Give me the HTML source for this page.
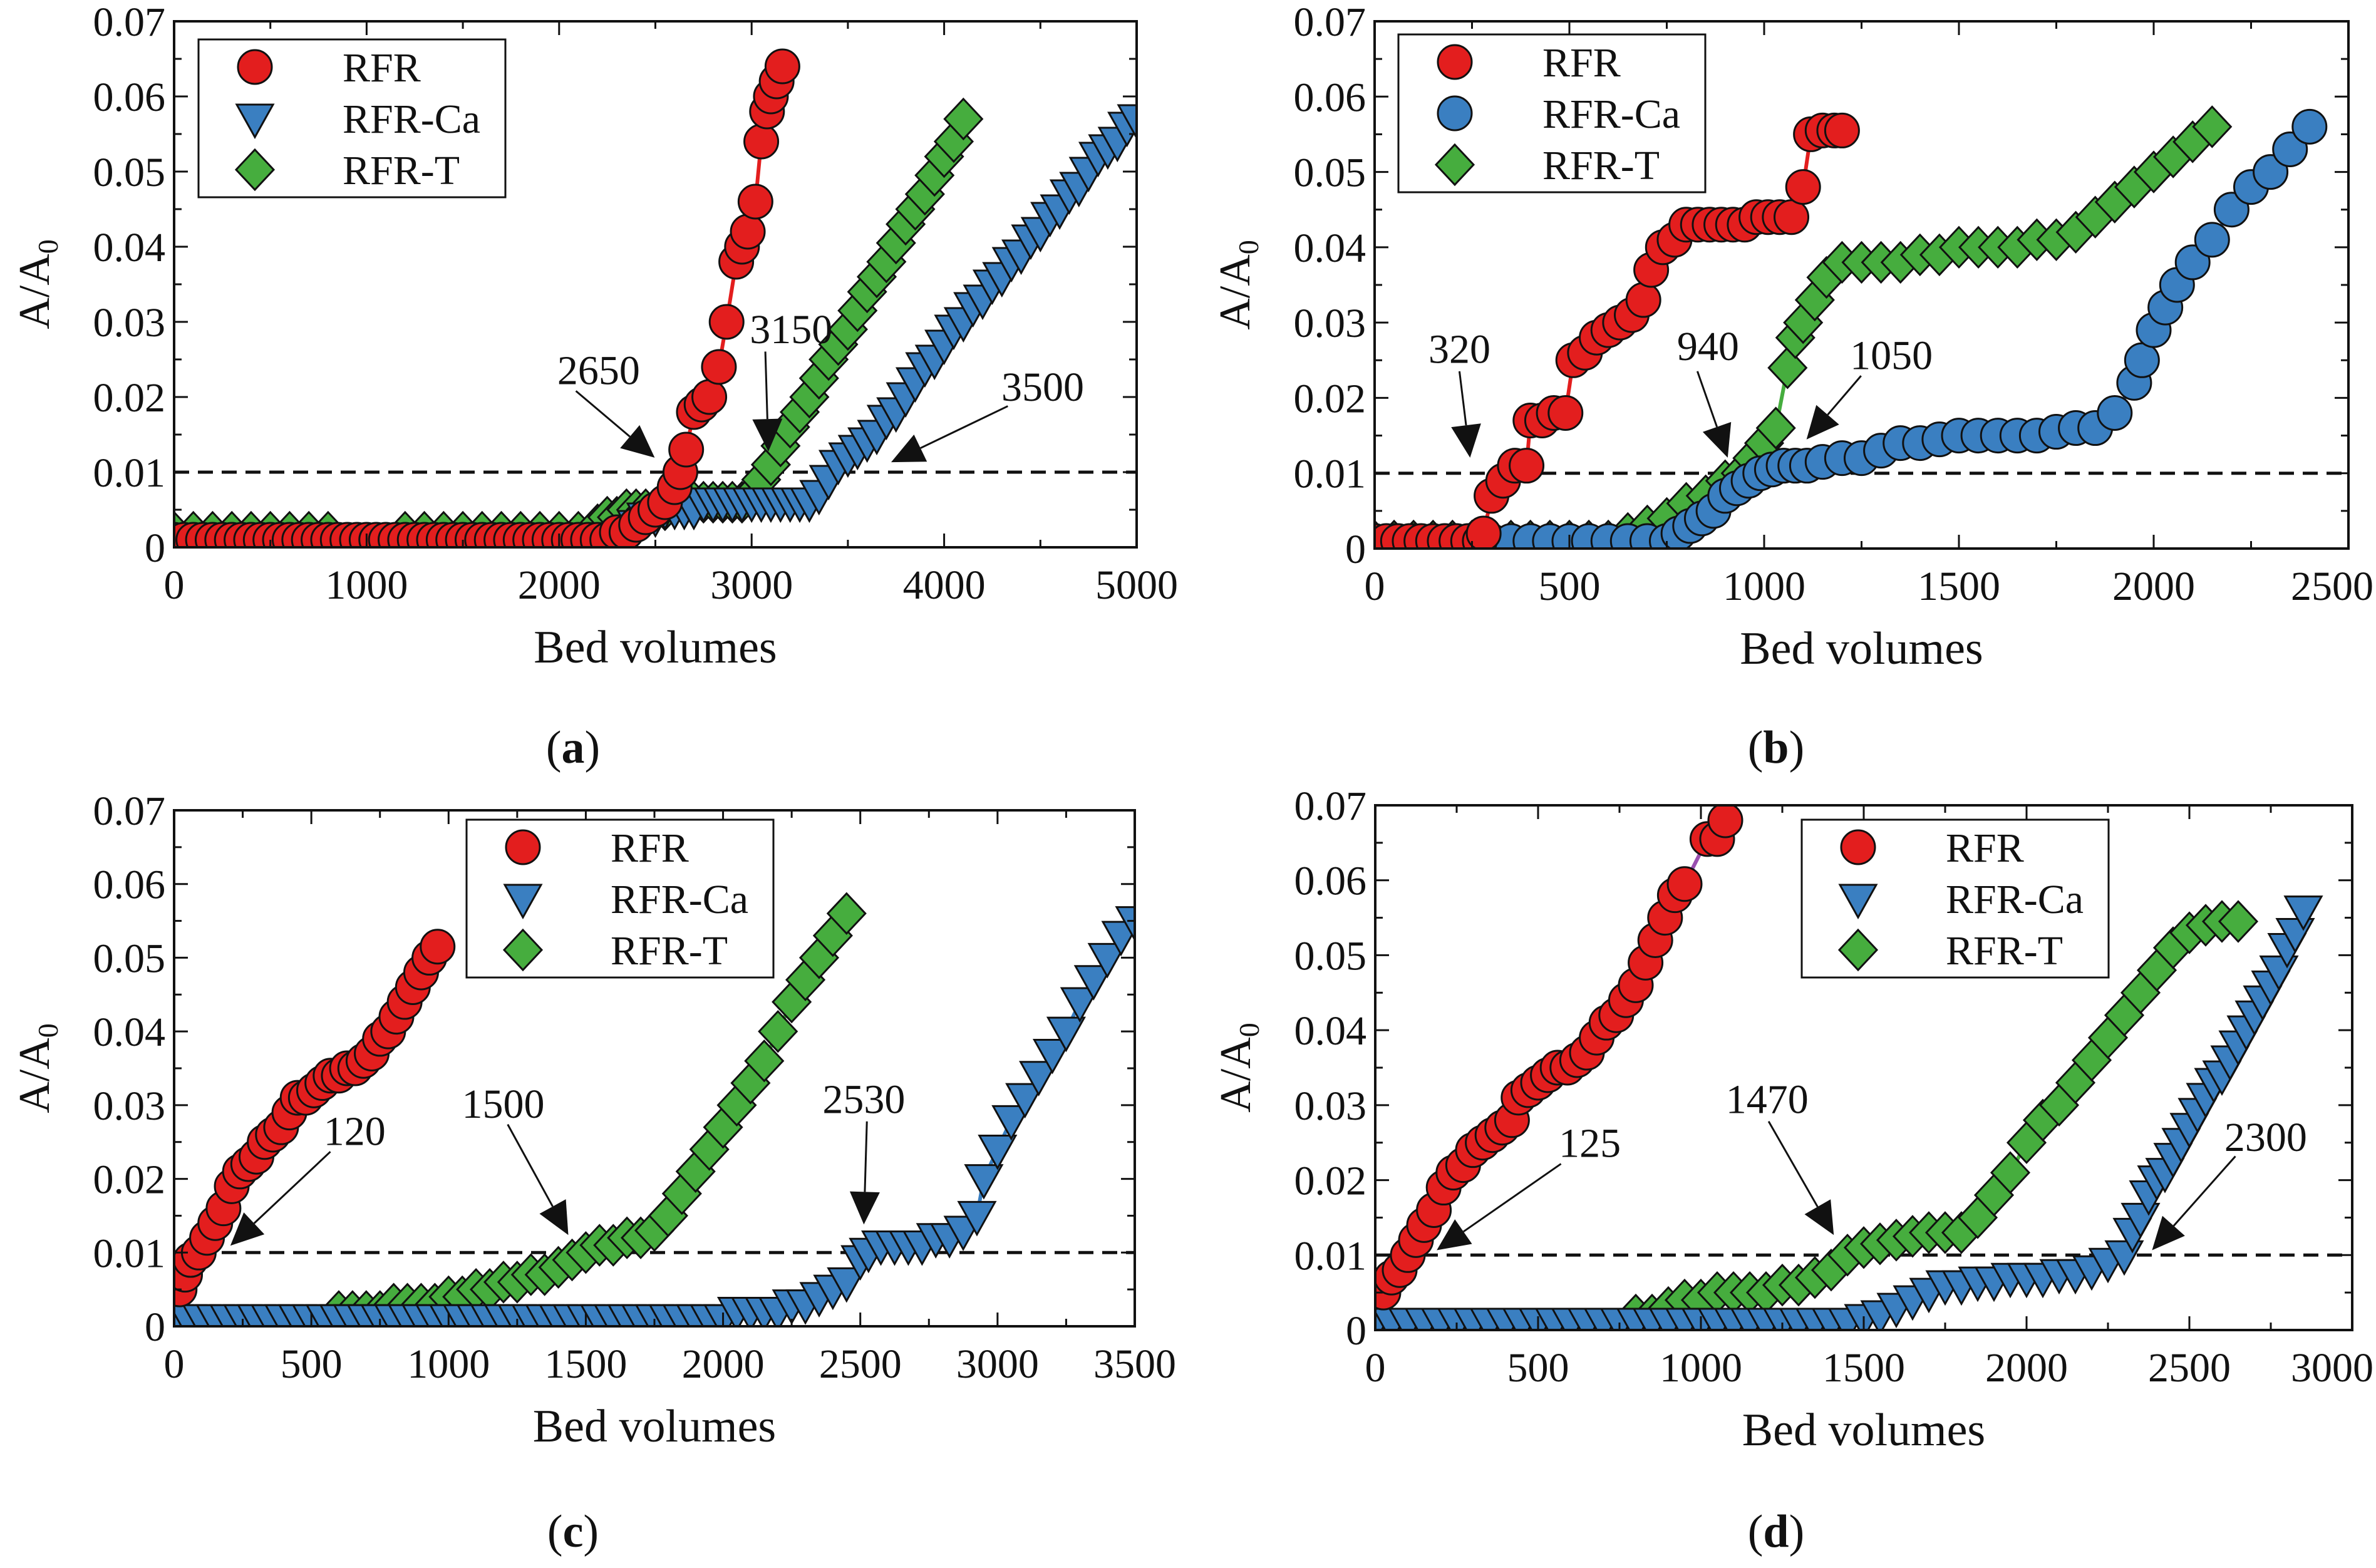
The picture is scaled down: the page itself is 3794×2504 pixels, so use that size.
<!DOCTYPE html>
<html><head><meta charset="utf-8">
<style>
html,body{margin:0;padding:0;background:#fff;}
svg{display:block;}
text{font-family:"Liberation Serif","DejaVu Serif",serif;fill:#111;}
</style></head>
<body>
<svg id="fig" width="3794" height="2504" viewBox="0 0 3794 2504" xmlns="http://www.w3.org/2000/svg"></svg>
<script>
// ---------- DATA ----------
// Panel (a)
const aRfrX=[0,50,100,150,200,250,300,350,400,450,500,550,600,650,700,750,800,850,900,950,1000,1050,1100,1150,1200,1250,1300,1350,1400,1450,1500,1550,1600,1650,1700,1750,1800,1850,1900,1950,2000,2050,2100,2150,2200,2250,2300,2350,2400,2450,2500,2550,2600,2630,2660,2700,2740,2780,2830,2870,2920,2950,2980,3020,3050,3080,3100,3130,3160];
const aRfrY=[0.001,0.001,0.001,0.001,0.001,0.001,0.001,0.001,0.001,0.001,0.001,0.001,0.001,0.001,0.001,0.001,0.001,0.001,0.001,0.001,0.001,0.001,0.001,0.001,0.001,0.001,0.001,0.001,0.001,0.001,0.001,0.001,0.001,0.001,0.001,0.001,0.001,0.001,0.001,0.001,0.001,0.001,0.001,0.001,0.001,0.001,0.002,0.002,0.003,0.004,0.005,0.006,0.008,0.01,0.013,0.018,0.019,0.02,0.024,0.03,0.038,0.04,0.042,0.046,0.054,0.058,0.06,0.062,0.064];
const aCaX=[0,200,400,600,800,1000,1200,1400,1600,1800,2000,2200,2400,2450,2500,2550,2600,2650,2700,2750,2800,2850,2900,2950,3000,3050,3100,3150,3200,3250,3300,3350,3400,3450,3500,3550,3600,3650,3700,3750,3800,3850,3900,3950,4000,4050,4100,4150,4200,4250,4300,4350,4400,4450,4500,4550,4600,4650,4700,4750,4800,4850,4900,4950,5000];
const aCaY=[0.001,0.001,0.001,0.001,0.001,0.001,0.001,0.001,0.001,0.001,0.001,0.001,0.003,0.004,0.004,0.005,0.005,0.005,0.005,0.006,0.006,0.006,0.006,0.006,0.006,0.006,0.006,0.006,0.006,0.006,0.006,0.007,0.009,0.011,0.012,0.013,0.014,0.015,0.017,0.018,0.02,0.022,0.024,0.025,0.027,0.029,0.03,0.032,0.033,0.035,0.036,0.038,0.039,0.041,0.042,0.044,0.045,0.047,0.048,0.05,0.052,0.053,0.054,0.056,0.057];
const aTX=[0,100,200,300,400,500,600,700,800,1200,1300,1400,1500,1600,1700,1800,1900,2000,2100,2200,2250,2300,2350,2400,2450,2500,2550,2600,2650,2700,2750,2800,2850,2900,2950,3000,3050,3100,3150,3200,3250,3300,3350,3400,3450,3500,3550,3600,3650,3700,3750,3800,3850,3900,3950,4000,4050,4100];
const aTY=[0.002,0.002,0.002,0.002,0.002,0.002,0.002,0.002,0.002,0.002,0.002,0.002,0.002,0.002,0.002,0.002,0.002,0.002,0.002,0.003,0.004,0.004,0.005,0.005,0.005,0.005,0.005,0.006,0.006,0.006,0.006,0.006,0.006,0.006,0.006,0.007,0.009,0.011,0.0135,0.016,0.018,0.02,0.0225,0.025,0.027,0.029,0.0315,0.034,0.036,0.038,0.0405,0.043,0.045,0.047,0.0495,0.052,0.054,0.057];
// Panel (b)
const bRfrX=[0,30,60,90,120,150,180,210,240,270,280,300,330,360,390,400,430,460,490,510,540,570,600,630,660,690,710,740,770,800,830,860,890,920,950,980,1010,1040,1070,1100,1120,1150,1180,1200];
const bRfrY=[0.001,0.001,0.001,0.001,0.001,0.001,0.001,0.001,0.001,0.001,0.002,0.007,0.009,0.011,0.011,0.017,0.017,0.018,0.018,0.025,0.026,0.028,0.029,0.03,0.031,0.033,0.037,0.04,0.041,0.043,0.043,0.043,0.043,0.043,0.043,0.044,0.044,0.044,0.044,0.048,0.055,0.0555,0.0555,0.0555];
const bCaX=[0,50,100,150,200,250,300,350,400,450,500,550,600,650,700,750,780,810,840,870,900,930,960,990,1020,1050,1080,1110,1150,1200,1250,1300,1350,1400,1450,1500,1550,1600,1650,1700,1750,1800,1850,1900,1950,1970,2000,2030,2060,2100,2150,2200,2250,2300,2350,2400];
const bCaY=[0.001,0.001,0.001,0.001,0.001,0.001,0.001,0.001,0.001,0.001,0.001,0.001,0.001,0.001,0.001,0.001,0.002,0.003,0.004,0.005,0.007,0.008,0.009,0.01,0.0105,0.011,0.011,0.011,0.0115,0.012,0.012,0.013,0.014,0.014,0.0145,0.015,0.015,0.015,0.015,0.015,0.0155,0.016,0.016,0.018,0.022,0.025,0.029,0.032,0.035,0.038,0.041,0.045,0.048,0.05,0.053,0.056];
const bTX=[0,50,100,150,200,250,300,350,400,450,500,550,600,650,700,750,800,850,900,940,970,1000,1030,1060,1080,1100,1130,1160,1200,1250,1300,1350,1400,1450,1500,1550,1600,1650,1700,1750,1800,1850,1900,1950,2000,2050,2100,2150];
const bTY=[0.001,0.001,0.001,0.001,0.001,0.001,0.001,0.001,0.001,0.001,0.001,0.001,0.001,0.002,0.003,0.004,0.006,0.007,0.009,0.01,0.012,0.014,0.016,0.024,0.028,0.03,0.033,0.036,0.038,0.038,0.038,0.038,0.039,0.039,0.04,0.04,0.04,0.04,0.041,0.041,0.042,0.044,0.046,0.048,0.05,0.052,0.054,0.056];
// Panel (c)
const cRfrX=[20,40,60,90,120,150,180,210,240,270,300,330,360,390,420,450,480,510,540,570,600,630,660,690,720,750,780,810,840,870,900,930,960];
const cRfrY=[0.005,0.007,0.009,0.01,0.012,0.014,0.016,0.019,0.021,0.022,0.023,0.025,0.026,0.027,0.029,0.031,0.031,0.032,0.033,0.034,0.034,0.035,0.035,0.036,0.037,0.039,0.04,0.042,0.044,0.046,0.048,0.05,0.0515];
const cCaX=[0,50,100,150,200,250,300,350,400,450,500,550,600,650,700,750,800,850,900,950,1000,1050,1100,1150,1200,1250,1300,1350,1400,1450,1500,1550,1600,1650,1700,1750,1800,1850,1900,1950,2000,2050,2100,2150,2200,2250,2300,2350,2400,2450,2500,2530,2575,2625,2675,2725,2775,2825,2875,2925,2950,3000,3050,3100,3150,3200,3250,3300,3350,3400,3450,3500];
const cCaY=[0.001,0.001,0.001,0.001,0.001,0.001,0.001,0.001,0.001,0.001,0.001,0.001,0.001,0.001,0.001,0.001,0.001,0.001,0.001,0.001,0.001,0.001,0.001,0.001,0.001,0.001,0.001,0.001,0.001,0.001,0.001,0.001,0.001,0.001,0.001,0.001,0.001,0.001,0.001,0.001,0.001,0.002,0.002,0.002,0.002,0.003,0.003,0.004,0.005,0.006,0.009,0.01,0.011,0.011,0.011,0.011,0.012,0.012,0.013,0.015,0.02,0.024,0.028,0.031,0.034,0.037,0.04,0.044,0.047,0.05,0.053,0.055];
const cTX=[600,650,700,750,800,850,900,950,1000,1050,1100,1150,1200,1250,1300,1350,1400,1450,1500,1550,1600,1650,1700,1750,1800,1850,1900,1950,2000,2050,2100,2150,2200,2250,2300,2350,2400,2450];
const cTY=[0.002,0.002,0.002,0.002,0.003,0.003,0.003,0.003,0.004,0.004,0.005,0.005,0.006,0.006,0.007,0.007,0.008,0.009,0.01,0.011,0.011,0.012,0.012,0.013,0.015,0.018,0.021,0.024,0.027,0.03,0.033,0.036,0.04,0.044,0.047,0.05,0.053,0.056];
// Panel (d)
const dRfrX=[25,50,75,100,125,150,180,210,240,270,300,330,360,390,420,440,470,500,530,560,590,620,650,680,710,740,770,800,830,860,890,920,950,1020,1050,1075];
const dRfrY=[0.005,0.007,0.008,0.01,0.012,0.014,0.016,0.019,0.021,0.022,0.024,0.025,0.026,0.027,0.028,0.031,0.032,0.033,0.034,0.035,0.035,0.036,0.037,0.039,0.041,0.042,0.044,0.046,0.049,0.052,0.055,0.058,0.0595,0.0655,0.0655,0.068];
const dCaX=[0,50,100,150,200,250,300,350,400,450,500,550,600,650,700,750,800,850,900,950,1000,1050,1100,1150,1200,1250,1300,1350,1400,1450,1500,1550,1600,1650,1700,1750,1800,1850,1900,1950,2000,2050,2100,2150,2200,2250,2300,2325,2350,2375,2400,2425,2450,2475,2500,2525,2550,2575,2600,2625,2650,2675,2700,2725,2750,2775,2800,2825,2850];
const dCaY=[0.001,0.001,0.001,0.001,0.001,0.001,0.001,0.001,0.001,0.001,0.001,0.001,0.001,0.001,0.001,0.001,0.001,0.001,0.001,0.001,0.001,0.001,0.001,0.001,0.001,0.001,0.001,0.001,0.001,0.001,0.0015,0.002,0.003,0.004,0.005,0.006,0.006,0.0065,0.0065,0.007,0.007,0.007,0.0075,0.0075,0.008,0.009,0.01,0.013,0.015,0.018,0.02,0.021,0.023,0.025,0.027,0.029,0.031,0.033,0.034,0.036,0.038,0.04,0.042,0.044,0.046,0.048,0.051,0.053,0.056];
const dTX=[800,850,900,950,1000,1050,1100,1150,1200,1250,1300,1350,1400,1450,1500,1550,1600,1650,1700,1750,1800,1850,1900,1950,2000,2050,2100,2150,2200,2250,2300,2350,2400,2450,2500,2550,2600,2650];
const dTY=[0.002,0.002,0.003,0.004,0.004,0.005,0.005,0.005,0.005,0.006,0.006,0.007,0.008,0.01,0.011,0.0115,0.012,0.0125,0.013,0.013,0.013,0.015,0.018,0.021,0.025,0.028,0.03,0.033,0.036,0.039,0.042,0.045,0.048,0.051,0.053,0.054,0.0545,0.0545];
const yTickLabels=["0","0.01","0.02","0.03","0.04","0.05","0.06","0.07"];
const yTickValues=[0,0.01,0.02,0.03,0.04,0.05,0.06,0.07];

// ---------- DRAWING ----------
const NS="http://www.w3.org/2000/svg";
const svg=document.getElementById('fig');
function mk(tag,attrs,parent){const e=document.createElementNS(NS,tag);for(const k in attrs)e.setAttribute(k,attrs[k]);(parent||svg).appendChild(e);return e;}
const RED="#e31e1e",BLUE="#3a7fc1",GREEN="#46ad3e";

function marker(g,type,cx,cy,color){
  let e;
  if(type==='circle'){e=mk('circle',{cx:cx,cy:cy,r:27,fill:color,stroke:'#111','stroke-width':3},g);}
  else if(type==='tri'){e=mk('polygon',{points:`${cx-29},${cy-22} ${cx+29},${cy-22} ${cx},${cy+30}`,fill:color,stroke:'#111','stroke-width':3},g);}
  else {e=mk('polygon',{points:`${cx},${cy-32} ${cx+30},${cy} ${cx},${cy+32} ${cx-30},${cy}`,fill:color,stroke:'#111','stroke-width':3},g);}
  return e;
}

function panel(p){
  const g=mk('g',{});
  
  
  const sx=v=>p.L+(v/p.xmax)*(p.R-p.L);
  const sy=v=>p.B-(v/0.07)*(p.B-p.T);
  const clipId='clip'+p.id;
  const cp=mk('clipPath',{id:clipId},g);mk('rect',{x:p.L,y:p.T,width:p.R-p.L,height:p.B-p.T},cp);
  const plot=mk('g',{'clip-path':`url(#${clipId})`},g);
  
  
  const dl=mk('line',{x1:p.L,x2:p.R,y1:sy(0.01),y2:sy(0.01),stroke:'#111','stroke-width':5,'stroke-dasharray':'24,14'},plot);
  
  
  p.series.slice().reverse().forEach(s=>{
    const sg=mk('g',{},plot);
    
    
    const pts=s.x.map((v,i)=>sx(v)+','+sy(s.y[i])).join(' ');
    mk('polyline',{points:pts,fill:'none',stroke:s.line,'stroke-width':6},sg);
    s.x.forEach((v,i)=>{
      const m=marker(sg,s.type,sx(v),sy(s.y[i]),s.color);
      
      
    });
  });
  const fr=mk('rect',{x:p.L,y:p.T,width:p.R-p.L,height:p.B-p.T,fill:'none',stroke:'#111','stroke-width':4},g);
  
  
  for(let v=0;v<=0.0701;v+=0.005){
    const major=Math.abs(v/0.01-Math.round(v/0.01))<1e-6;const len=major?22:12;const y=sy(v);
    mk('line',{x1:p.L,x2:p.L+len,y1:y,y2:y,stroke:'#111','stroke-width':3},g);
    mk('line',{x1:p.R,x2:p.R-len,y1:y,y2:y,stroke:'#111','stroke-width':3},g);
  }
  yTickValues.forEach((v,i)=>{
    const t=mk('text',{x:p.L-14,y:sy(v)+23,'font-size':66,'text-anchor':'end'},g);
    t.textContent=yTickLabels[i];
    
    
  });
  for(let v=0;v<=p.xmax+1e-6;v+=p.minor){
    const major=Math.abs(v/p.major-Math.round(v/p.major))<1e-6;const len=major?22:12;const x=sx(v);
    mk('line',{x1:x,x2:x,y1:p.B,y2:p.B-len,stroke:'#111','stroke-width':3},g);
    mk('line',{x1:x,x2:x,y1:p.T,y2:p.T+len,stroke:'#111','stroke-width':3},g);
  }
  for(let v=0;v<=p.xmax+1e-6;v+=p.major){
    let x=sx(v),anchor='middle';
    if(x+75>3790){x=3790;anchor='end';}
    const t=mk('text',{x:x,y:p.B+82,'font-size':66,'text-anchor':anchor},g);
    t.textContent=String(v);
    
    
  }
  const xt=mk('text',{x:(p.L+p.R)/2,y:p.B+184,'font-size':74,'text-anchor':'middle'},g);
  xt.textContent='Bed volumes';
  
  
  const yt=mk('text',{x:0,y:0,'font-size':70,'text-anchor':'middle',transform:`translate(${p.L-200},${(p.T+p.B)/2}) rotate(-90)`},g);
  yt.innerHTML='A/A<tspan font-size="46" dy="14">0</tspan>';
  
  
  const lg=mk('g',{},g);
  
  
  mk('rect',{x:p.leg[0],y:p.leg[1],width:490,height:252,fill:'#fff',stroke:'#111','stroke-width':3},lg);
  p.series.forEach((s,i)=>{
    const cy=p.leg[1]+44+i*82;
    const le=mk('g',{},lg);
    
    
    marker(le,s.type,p.leg[0]+90,cy,s.color);
    const t=mk('text',{x:p.leg[0]+230,y:cy+23,'font-size':66},le);
    t.textContent=s.name;
  });
  p.ann.forEach(a=>{
    const s=2.42;
    const ag=mk('g',{},g);
    
    
    const t=mk('text',{x:a[1]*s,y:a[2]*s+23,'font-size':66,'text-anchor':'middle'},ag);
    t.textContent=a[0];
    const x1=a[3]*s,y1=a[4]*s,x2=a[5]*s,y2=a[6]*s;
    const dx=x2-x1,dy=y2-y1,L=Math.hypot(dx,dy),ux=dx/L,uy=dy/L;
    const hl=52,hw=24;const bx=x2-ux*hl,by=y2-uy*hl;
    mk('line',{x1:x1,y1:y1,x2:bx,y2:by,stroke:'#111','stroke-width':3},ag);
    mk('polygon',{points:`${x2},${y2} ${bx-uy*hw},${by+ux*hw} ${bx+uy*hw},${by-ux*hw}`,fill:'#111'},ag);
  });
  const pl=mk('text',{x:p.labx,y:p.lab,'font-size':74,'text-anchor':'middle'},g);
  pl.innerHTML='(<tspan font-weight="bold">'+p.id+'</tspan>)';
  
  
}

panel({id:'a',L:278,R:1815,T:34,B:874,xmax:5000,major:1000,minor:500,leg:[317,63],lab:1218,labx:915,
  series:[{name:'RFR',type:'circle',color:RED,line:RED,x:aRfrX,y:aRfrY},
          {name:'RFR-Ca',type:'tri',color:BLUE,line:BLUE,x:aCaX,y:aCaY},
          {name:'RFR-T',type:'diamond',color:GREEN,line:GREEN,x:aTX,y:aTY}],
  ann:[['2650',395,244,380,258,432,302],['3150',522,217,505,232,507,298],['3500',688,255,665,268,588,305]]});
panel({id:'b',L:2195,R:3750,T:34,B:876,xmax:2500,major:500,minor:250,leg:[2233,55],lab:1218,labx:2836,
  series:[{name:'RFR',type:'circle',color:RED,line:RED,x:bRfrX,y:bRfrY},
          {name:'RFR-Ca',type:'circle',color:BLUE,line:BLUE,x:bCaX,y:bCaY},
          {name:'RFR-T',type:'diamond',color:GREEN,line:GREEN,x:bTX,y:bTY}],
  ann:[['320',963,230,963,245,970,302],['940',1127,228,1120,245,1140,302],['1050',1248,234,1228,248,1192,290]]});
panel({id:'c',L:278,R:1812,T:1294,B:2118,xmax:3500,major:500,minor:250,leg:[745,1309],lab:2470,labx:915,
  series:[{name:'RFR',type:'circle',color:RED,line:RED,x:cRfrX,y:cRfrY},
          {name:'RFR-Ca',type:'tri',color:BLUE,line:BLUE,x:cCaX,y:cCaY},
          {name:'RFR-T',type:'diamond',color:GREEN,line:GREEN,x:cTX,y:cTY}],
  ann:[['120',234,746,218,760,152,822],['1500',332,728,335,742,375,815],['2530',570,725,572,740,570,808]]});
panel({id:'d',L:2196,R:3756,T:1286,B:2124,xmax:3000,major:500,minor:250,leg:[2877,1309],lab:2470,labx:2836,
  series:[{name:'RFR',type:'circle',color:RED,line:'#9a4fb0',x:dRfrX,y:dRfrY},
          {name:'RFR-Ca',type:'tri',color:BLUE,line:BLUE,x:dCaX,y:dCaY},
          {name:'RFR-T',type:'diamond',color:GREEN,line:GREEN,x:dTX,y:dTY}],
  ann:[['125',1049,754,1030,768,948,825],['1470',1166,725,1167,740,1210,815],['2300',1495,750,1475,763,1420,825]]});
</script>
</body></html>
